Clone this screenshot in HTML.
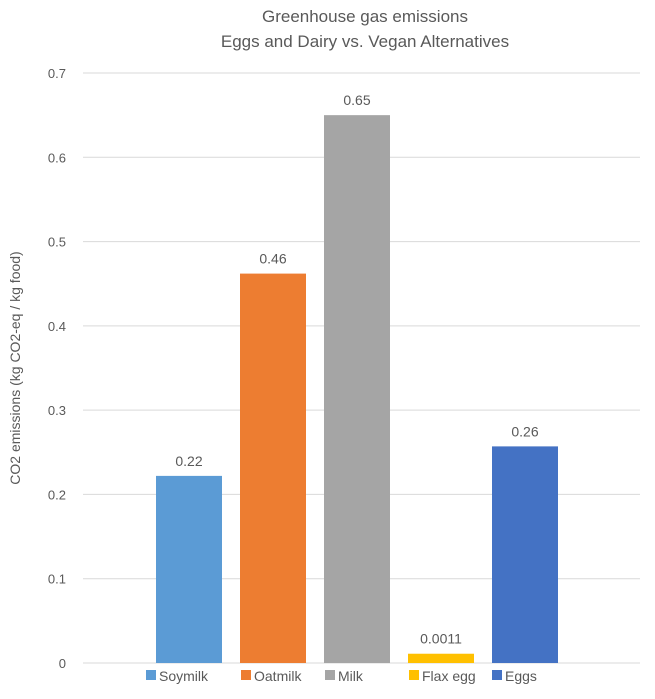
<!DOCTYPE html>
<html><head><meta charset="utf-8"><style>
body{margin:0;background:#fff;font-family:"Liberation Sans",sans-serif;}
svg text{font-family:"Liberation Sans",sans-serif;fill:#595959;}
</style></head><body>
<svg id="chart" width="655" height="694">
<text x="365" y="22" text-anchor="middle" font-size="17">Greenhouse gas emissions</text>
<text x="365" y="47" text-anchor="middle" font-size="17">Eggs and Dairy vs. Vegan Alternatives</text>
<text transform="translate(20,368) rotate(-90)" text-anchor="middle" font-size="14">CO2 emissions (kg CO2-eq / kg food)</text>
<g id="grid"></g><g id="bars"></g><g id="legend"></g>
</svg>
<script>
const categories=["Soymilk","Oatmilk","Milk","Flax egg","Eggs"];
const values=[0.222,0.462,0.65,0.011,0.257];
const valueLabels=["0.22","0.46","0.65","0.0011","0.26"];
const ticks=[0,0.1,0.2,0.3,0.4,0.5,0.6,0.7];
const colors=["#5B9BD5","#ED7D31","#A5A5A5","#FFC000","#4472C4"];
const NS="http://www.w3.org/2000/svg";
const y0=663,yTop=73,vmax=0.7;
const y=v=>y0-(y0-yTop)*v/vmax;
const step=84,bw=66,xStart=156;
const x=i=>xStart+i*step;
function mk(t,a,p){const e=document.createElementNS(NS,t);for(const k in a)e.setAttribute(k,a[k]);p.appendChild(e);return e;}
const grid=document.getElementById('grid');
ticks.forEach(t=>{
 const l=mk('line',{x1:83,x2:640,y1:y(t),y2:y(t),stroke:'#d9d9d9','stroke-width':1},grid);
 
 
 const tx=mk('text',{x:66,y:y(t)+5,'text-anchor':'end','font-size':13},grid);
 tx.textContent=String(t);
 
 
});
const bars=document.getElementById('bars');
values.forEach((v,i)=>{
 const r=mk('rect',{x:x(i),y:y(v),width:bw,height:y0-y(v),fill:colors[i]},bars);
 
 
 const t=mk('text',{x:x(i)+bw/2,y:y(v)-10,'text-anchor':'middle','font-size':14},bars);
 t.textContent=valueLabels[i];
 
 
});
const lg=document.getElementById('legend');
const lx=[146,241,325,409,492];
categories.forEach((c,i)=>{
 const g=mk('g',{},lg);
 
 
 mk('rect',{x:lx[i],y:670,width:10,height:10,fill:colors[i]},g);
 const t=mk('text',{x:lx[i]+13,y:681,'font-size':14},g);
 t.textContent=c;
});
</script>
</body></html>
